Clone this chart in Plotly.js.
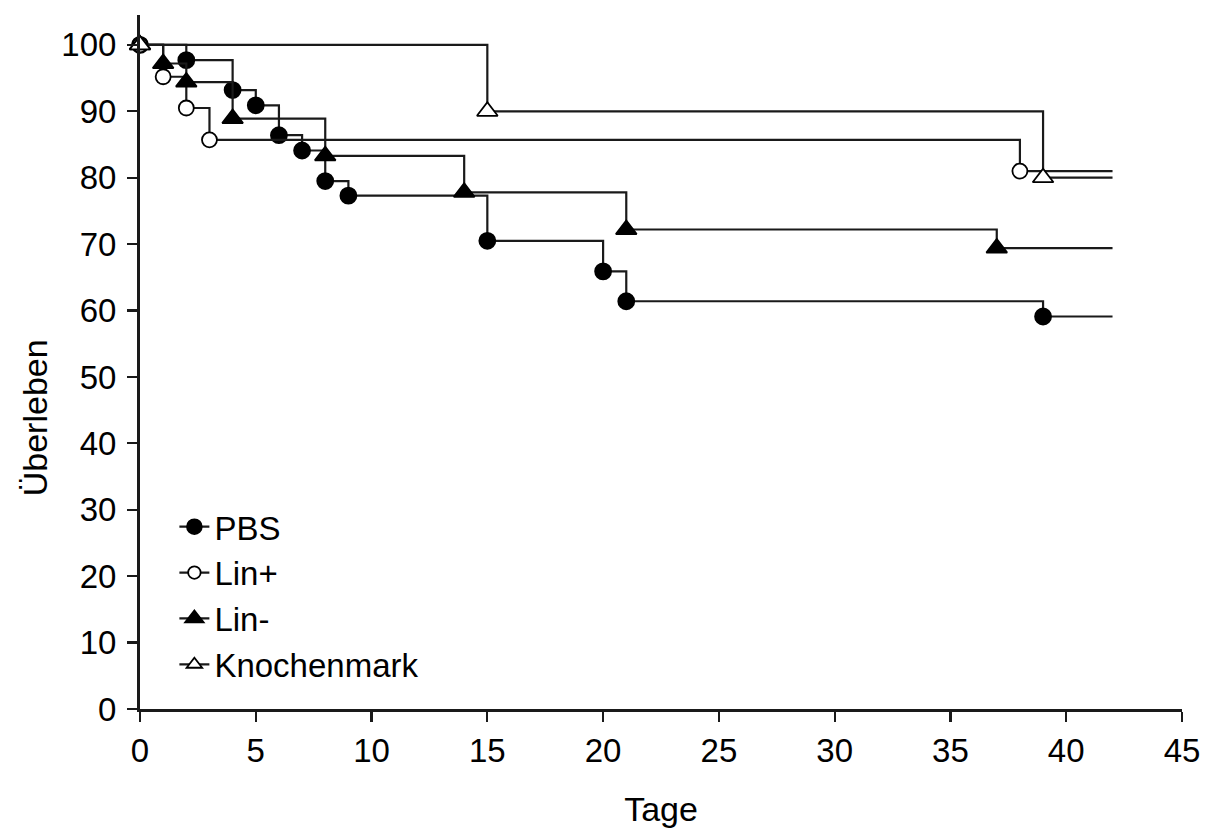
<!DOCTYPE html>
<html>
<head>
<meta charset="utf-8">
<script src="https://cdn.plot.ly/plotly-3.0.1.min.js"></script>
<style>html,body{margin:0;padding:0;background:#fff;}#chart{width:1213px;height:832px;}</style>
</head>
<body>
<div id="chart"></div>
<script>
// Kaplan-Meier survival data (days, survival %)
const seriesNames = ["PBS", "Lin+", "Lin-", "Knochenmark"];
const pbsDays  = [0, 2, 4, 5, 6, 7, 8, 9, 15, 20, 21, 39, 42];
const pbsSurv  = [100, 97.7, 93.2, 90.9, 86.4, 84.1, 79.5, 77.3, 70.5, 65.9, 61.4, 59.1, 59.1];
const linPlusDays = [0, 1, 2, 3, 38, 42];
const linPlusSurv = [100, 95.2, 90.5, 85.7, 81.0, 81.0];
const linMinusDays = [0, 1, 2, 4, 8, 14, 21, 37, 42];
const linMinusSurv = [100, 97.2, 94.4, 88.9, 83.3, 77.8, 72.2, 69.4, 69.4];
const kmDays = [0, 15, 39, 42];
const kmSurv = [100, 90, 80, 80];
const xTicks = [0, 5, 10, 15, 20, 25, 30, 35, 40, 45];
const yTicks = [0, 10, 20, 30, 40, 50, 60, 70, 80, 90, 100];
const xTitle = "Tage";
const yTitle = "Überleben";

const FONT = "Liberation Sans, Arial, Helvetica, sans-serif";
const LINE = "#1a1a1a";

function sizes(n, s) { // marker at every event, none at the censoring end
  const a = new Array(n).fill(s); a[n - 1] = 0; return a;
}
function mk(name, x, y, symbol, fill, size) {
  return {
    type: "scatter", mode: "lines+markers", name: name, x: x, y: y,
    line: {shape: "hv", color: LINE, width: 2.2},
    marker: {symbol: symbol, size: sizes(x.length, size), color: fill, opacity: 1,
             line: {color: "#000", width: 1.8}},
    cliponaxis: false
  };
}
const data = [
  mk(seriesNames[0], pbsDays, pbsSurv, "circle", "#000", 16),
  mk(seriesNames[1], linPlusDays, linPlusSurv, "circle", "#fff", 15),
  mk(seriesNames[2], linMinusDays, linMinusSurv, "triangle-up", "#000", 18),
  mk(seriesNames[3], kmDays, kmSurv, "triangle-up", "#fff", 18)
];

const layout = {
  width: 1213, height: 832,
  margin: {l: 140, r: 31, t: 15, b: 123},
  paper_bgcolor: "#fff", plot_bgcolor: "#fff",
  font: {family: FONT, size: 33, color: "#000"},
  showlegend: true,
  legend: {x: 0.033, y: 0.303, xanchor: "left", yanchor: "top",
           bgcolor: "rgba(0,0,0,0)", font: {family: FONT, size: 33, color: "#000"},
           itemwidth: 30, tracegroupgap: 0},
  xaxis: {
    range: [0, 45], tickvals: xTicks, ticktext: xTicks.map(String),
    showgrid: false, zeroline: false, showline: true, linecolor: "#1a1a1a", linewidth: 3,
    ticks: "outside", ticklen: 10, tickwidth: 2.2, tickcolor: "#1a1a1a",
    tickfont: {family: FONT, size: 33, color: "#000"},
    title: {text: xTitle, font: {family: FONT, size: 34, color: "#000"}, standoff: 30},
    fixedrange: true
  },
  yaxis: {
    range: [0, 104.5], tickvals: yTicks, ticktext: yTicks.map(String),
    showgrid: false, zeroline: false, showline: true, linecolor: "#1a1a1a", linewidth: 3,
    ticks: "outside", ticklen: 10, tickwidth: 2.2, tickcolor: "#1a1a1a",
    tickfont: {family: FONT, size: 33, color: "#000"}, ticklabelstandoff: 4,
    title: {text: ""},
    fixedrange: true
  },
  annotations: [{
    text: yTitle, textangle: -90, xref: "paper", yref: "paper",
    x: -0.101, y: 0.42, xanchor: "center", yanchor: "middle", showarrow: false,
    font: {family: FONT, size: 34, color: "#000"}
  }]
};

Plotly.newPlot("chart", data, layout, {staticPlot: true, displayModeBar: false});
</script>
</body>
</html>
